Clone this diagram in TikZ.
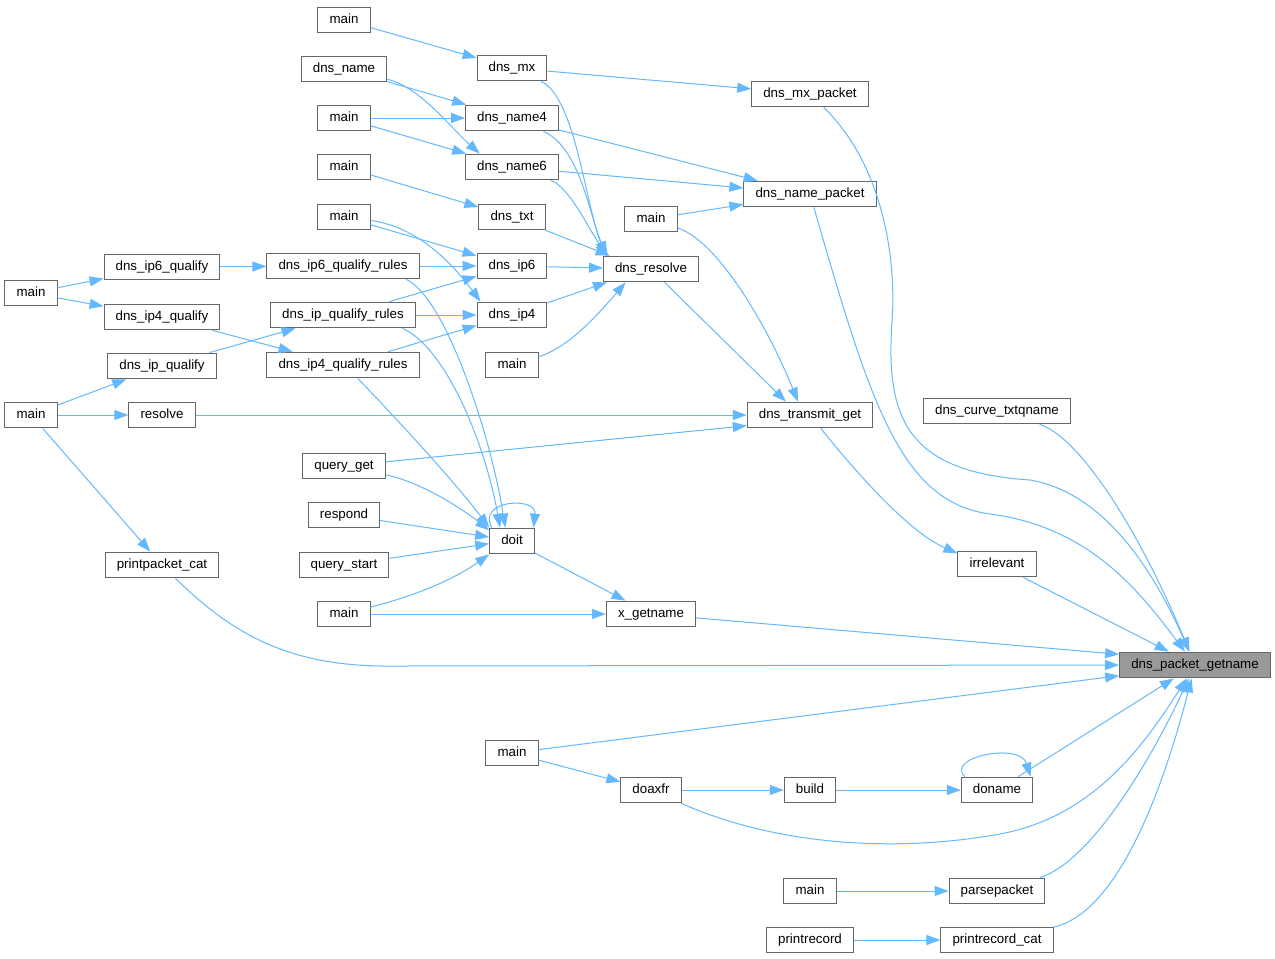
\documentclass[tikz,border=0pt]{standalone}
\usepackage{fontspec}
\setmainfont{Liberation Sans}
\usetikzlibrary{arrows.meta}
\definecolor{edgeblue}{HTML}{63B8FF}
\definecolor{boxgray}{HTML}{666666}
\definecolor{hlgray}{HTML}{999999}
\tikzset{
  fn/.style={draw=boxgray, fill=white, line width=0.75pt, font=\fontsize{10}{12}\selectfont,
    inner xsep=8.7pt, inner ysep=0pt, minimum height=19.3pt, text height=7.5pt, text depth=2pt},
  cur/.style={fn, fill=hlgray},
  call/.style={draw=edgeblue, line width=0.75pt, -{Triangle[length=10.5pt,width=7.5pt]}}
}
\begin{document}
\begin{tikzpicture}[x=0.75pt,y=-0.75pt]
      \useasboundingbox (0,-2) rectangle (1275,956);
      % callers, column by column
      \node[fn] (m6) at (31,291) {main};
      \node[fn] (m8) at (31,413) {main};
      \node[fn] (q6) at (162,265) {dns\_ip6\_qualify};
      \node[fn] (q4) at (162,315) {dns\_ip4\_qualify};
      \node[fn] (q) at (162,364) {dns\_ip\_qualify};
      \node[fn] (rsv) at (162,413) {resolve};
      \node[fn] (ppc) at (162,563) {printpacket\_cat};
      \node[fn] (m1) at (344,18) {main};
      \node[fn] (nm) at (344,67) {dns\_name};
      \node[fn] (m2) at (344,116) {main};
      \node[fn] (m3) at (344,165) {main};
      \node[fn] (m5) at (344,215) {main};
      \node[fn] (q6r) at (343,264) {dns\_ip6\_qualify\_rules};
      \node[fn] (qr) at (343,313) {dns\_ip\_qualify\_rules};
      \node[fn] (q4r) at (343,363) {dns\_ip4\_qualify\_rules};
      \node[fn] (qg) at (344,464) {query\_get};
      \node[fn] (rsp) at (344,513) {respond};
      \node[fn] (qs) at (344,563) {query\_start};
      \node[fn] (m9) at (344,612) {main};
      \node[fn] (mx) at (512,66) {dns\_mx};
      \node[fn] (n4) at (512,116) {dns\_name4};
      \node[fn] (n6) at (512,165) {dns\_name6};
      \node[fn] (txt) at (512,215) {dns\_txt};
      \node[fn] (ip6) at (512,264) {dns\_ip6};
      \node[fn] (ip4) at (512,313) {dns\_ip4};
      \node[fn] (m7) at (512,363) {main};
      \node[fn] (doit) at (512,539) {doit};
      \node[fn] (m10) at (512,751) {main};
      \node[fn] (m4) at (651,217) {main};
      \node[fn] (res) at (651,267) {dns\_resolve};
      \node[fn] (xg) at (651,612) {x\_getname};
      \node[fn] (axfr) at (651,788) {doaxfr};
      \node[fn] (mxp) at (810,92) {dns\_mx\_packet};
      \node[fn] (np) at (810,192) {dns\_name\_packet};
      \node[fn] (tg) at (810,413) {dns\_transmit\_get};
      \node[fn] (bld) at (810,788) {build};
      \node[fn] (m11) at (810,889) {main};
      \node[fn] (pr) at (810,938) {printrecord};
      \node[fn] (ctq) at (997,409) {dns\_curve\_txtqname};
      \node[fn] (irr) at (997,562) {irrelevant};
      \node[fn] (dn) at (997,788) {doname};
      \node[fn] (pp) at (997,889) {parsepacket};
      \node[fn] (prc) at (997,938) {printrecord\_cat};
      \node[cur] (pg) at (1195,663) {dns\_packet\_getname};
      % left part
      \draw[call] (m6) -- (q6);
      \draw[call] (m6) -- (q4);
      \draw[call] (m8) -- (q);
      \draw[call] (m8) -- (rsv);
      \draw[call] (m8) -- (ppc);
      \draw[call] (q6) -- (q6r);
      \draw[call] (q4) -- (q4r);
      \draw[call] (q) -- (qr);
      \draw[call] (q6r) -- (ip6);
      \draw[call] (qr) -- (ip6);
      \draw[call] (qr) -- (ip4);
      \draw[call] (q4r) -- (ip4);
      \draw[call] (m1) -- (mx);
      \draw[call] (nm) -- (n4);
      \draw[call] (nm) .. controls (420,85) and (450,125) .. ([xshift=11pt]n6.north west);
      \draw[call] (m2) -- (n4);
      \draw[call] (m2) -- (n6);
      \draw[call] (m3) -- (txt);
      \draw[call] (m5) -- (ip6);
      \draw[call] (m5) .. controls (420,225) and (455,265) .. ([xshift=3pt]ip4.north west);
      % into doit
      \draw[call] ([xshift=-10pt]q6r.south east) .. controls (445,295) and (490,430) .. ([xshift=-5pt]doit.north);
      \draw[call] ([xshift=-10pt]qr.south east) .. controls (445,345) and (485,440) .. ([xshift=-9pt]doit.north);
      \draw[call] ([xshift=11pt]q4r.south) .. controls (395,415) and (455,480) .. (doit.north west);
      \draw[call] (qg) .. controls (420,480) and (460,505) .. ([yshift=-2pt]doit.north west);
      \draw[call] (rsp) -- ([yshift=3pt]doit.west);
      \draw[call] (qs) -- ([yshift=-2pt]doit.west);
      \draw[call] (m9) .. controls (410,595) and (450,580) .. (doit.south west);
      \draw[call] ([xshift=2pt]doit.north west) .. controls (476,498) and (537,494) .. ([xshift=-1pt]doit.north east);
      \draw[call] (doit) -- (xg);
      \draw[call] (m9) -- (xg);
      % into dns_resolve
      \draw[call] (mx) .. controls (575,95) and (585,200) .. ([xshift=2pt]res.north west);
      \draw[call] (n4) .. controls (580,145) and (590,215) .. ([xshift=3pt]res.north west);
      \draw[call] (n6) .. controls (570,185) and (590,230) .. ([xshift=4pt]res.north west);
      \draw[call] (txt) -- ([xshift=5pt]res.north west);
      \draw[call] (ip6) -- (res);
      \draw[call] (ip4) -- ([xshift=3pt]res.south west);
      \draw[call] (m7) .. controls (570,345) and (600,310) .. ([xshift=17pt]res.south west);
      % packet builders and transmit
      \draw[call] (mx) -- (mxp);
      \draw[call] (n4) -- (np);
      \draw[call] (n6) -- (np);
      \draw[call] (m4) -- (np);
      \draw[call] (m4) .. controls (720,240) and (770,330) .. ([xshift=-9pt]tg.north);
      \draw[call] (res) -- ([xshift=-18pt]tg.north);
      \draw[call] (rsv) -- (tg);
      \draw[call] (qg) -- ([yshift=2pt]tg.south west);
      \draw[call] (tg) .. controls (880,500) and (920,535) .. ([yshift=-2pt]irr.north west);
      \draw[call] (axfr) -- (bld);
      \draw[call] (m10) -- (axfr);
      \draw[call] (bld) -- (dn);
      \draw[call] ([xshift=3pt]dn.north west) .. controls (945,755) and (1020,740) .. ([xshift=-2pt]dn.north east);
      \draw[call] (m11) -- (pp);
      \draw[call] (pr) -- (prc);
      % into dns_packet_getname
      \draw[call] (mxp) .. controls (880,160) and (897,250) .. (892,320)
        .. controls (885,420) and (910,470) .. (1030,478)
        .. controls (1100,490) and (1150,560) .. (pg);
      \draw[call] (np) .. controls (870,400) and (900,500) .. (990,512)
        .. controls (1090,525) and (1140,590) .. (pg);
      \draw[call] (ctq) .. controls (1080,435) and (1140,530) .. (pg);
      \draw[call] (irr) -- (pg);
      \draw[call] (xg) -- ([yshift=-2pt]pg.north west);
      \draw[call] (ppc) .. controls (240,640) and (300,666) .. (400,664) -- (pg.west);
      \draw[call] (m10) -- ([yshift=2pt]pg.south west);
      \draw[call] (dn) -- (pg);
      \draw[call] (axfr) .. controls (780,845) and (900,850) .. (1000,832)
        .. controls (1090,815) and (1140,750) .. (pg);
      \draw[call] (pp) .. controls (1090,860) and (1150,760) .. (pg);
      \draw[call] (prc) .. controls (1120,910) and (1165,780) .. (pg);
\end{tikzpicture}
\end{document}
